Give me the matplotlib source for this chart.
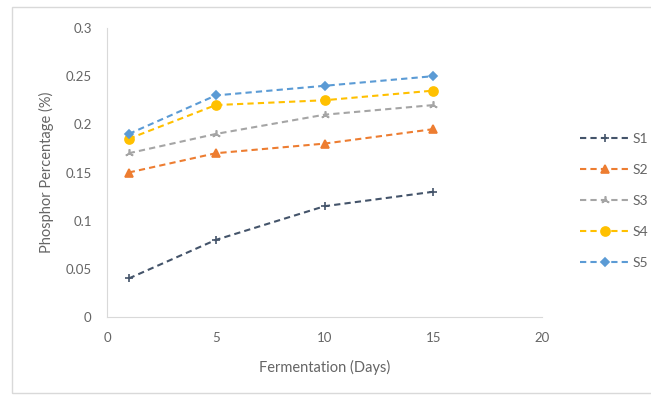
import matplotlib.pyplot as plt
from matplotlib.patches import Rectangle

days = [1, 5, 10, 15]
s1 = [0.04, 0.08, 0.115, 0.13]
s2 = [0.15, 0.17, 0.18, 0.195]
s3 = [0.17, 0.19, 0.21, 0.22]
s4 = [0.185, 0.22, 0.225, 0.235]
s5 = [0.19, 0.23, 0.24, 0.25]
labels = ['S1', 'S2', 'S3', 'S4', 'S5']

colors = ['#44546A', '#ED7D31', '#A5A5A5', '#FFC000', '#5B9BD5']
markers = ['+', '^', (3, 2, 0), 'o', 'D']
msizes = [6, 6, 6, 6.5, 4.5]

plt.rcParams['font.family'] = ['Lato', 'DejaVu Sans']
txt = '#656565'

fig = plt.figure(figsize=(6.51, 3.96), dpi=100)
fig.patches.append(Rectangle((12 / 651, 3 / 396), 1.0, 1 - 10 / 396,
                             transform=fig.transFigure, fill=False,
                             edgecolor='#D9D9D9', lw=1.0))
ax = fig.add_axes([107 / 651, 1 - 317 / 396, 435 / 651, 289 / 396])

for ys, lab, c, m, ms in zip([s1, s2, s3, s4, s5], labels, colors, markers, msizes):
    ax.plot(days, ys, color=c, lw=1.5, linestyle=(0, (3, 2)), marker=m,
            markersize=ms, markeredgewidth=1.2, label=lab)

ax.set_xlim(0, 20)
ax.set_ylim(0, 0.3)
ax.set_xticks([0, 5, 10, 15, 20])
ax.set_yticks([0, 0.05, 0.1, 0.15, 0.2, 0.25, 0.3])
ax.set_yticklabels(['0', '0.05', '0.1', '0.15', '0.2', '0.25', '0.3'])
for s in ['top', 'right']:
    ax.spines[s].set_visible(False)
for s in ['left', 'bottom']:
    ax.spines[s].set_color('#D9D9D9')
ax.tick_params(axis='both', length=0, labelsize=9.5, labelcolor=txt)
ax.tick_params(axis='y', pad=11)
ax.tick_params(axis='x', pad=11)
ax.set_xlabel('Fermentation (Days)', fontsize=10.5, color=txt, labelpad=11)
ax.set_ylabel('Phosphor Percentage (%)', fontsize=10.5, color=txt, labelpad=8)

fig.legend(loc='center left', bbox_to_anchor=(573 / 651, 1 - 201 / 396),
           frameon=False, fontsize=10, labelcolor=txt, handlelength=3.6,
           handletextpad=0.2, labelspacing=1.38, borderpad=0)

fig.savefig('out.png', dpi=100)
